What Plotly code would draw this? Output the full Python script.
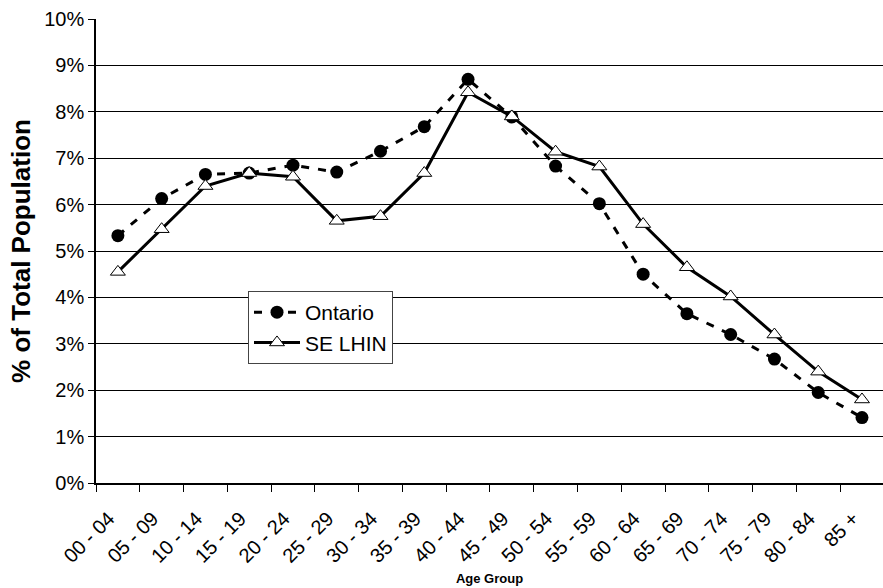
import plotly.graph_objects as go

age_groups = ["00 - 04", "05 - 09", "10 - 14", "15 - 19", "20 - 24", "25 - 29",
              "30 - 34", "35 - 39", "40 - 44", "45 - 49", "50 - 54", "55 - 59",
              "60 - 64", "65 - 69", "70 - 74", "75 - 79", "80 - 84", "85 +"]

ontario = [5.33, 6.13, 6.65, 6.68, 6.85, 6.70, 7.15, 7.68, 8.70, 7.89,
           6.83, 6.02, 4.50, 3.65, 3.20, 2.67, 1.95, 1.41]

se_lhin = [4.55, 5.47, 6.40, 6.68, 6.60, 5.65, 5.75, 6.68, 8.42, 7.90,
           7.14, 6.82, 5.58, 4.65, 4.02, 3.20, 2.40, 1.80]

y_ticks = [0, 1, 2, 3, 4, 5, 6, 7, 8, 9, 10]

FONT = "Arial, Liberation Sans, sans-serif"

fig = go.Figure()
fig.add_trace(go.Scatter(
    x=age_groups, y=[v / 100 for v in ontario], name="Ontario",
    mode="lines+markers",
    line=dict(color="black", width=3, dash="8px,9px"),
    marker=dict(symbol="circle", size=13, color="black"),
))
fig.add_trace(go.Scatter(
    x=age_groups, y=[v / 100 for v in se_lhin], name="SE LHIN",
    mode="lines+markers",
    line=dict(color="black", width=3),
    marker=dict(symbol="triangle-up", size=13, color="white",
                line=dict(color="black", width=1)),
))

fig.update_layout(
    width=883, height=588,
    margin=dict(l=96, r=0, t=19, b=105),
    paper_bgcolor="white", plot_bgcolor="white",
    font=dict(family=FONT, size=20, color="black"),
    showlegend=True,
    legend=dict(
        x=(248 - 96) / 787, y=(483 - 291) / 464, xanchor="left", yanchor="top",
        bgcolor="white", bordercolor="#444", borderwidth=1,
        font=dict(family=FONT, size=21, color="black"),
        itemwidth=46, tracegroupgap=0,
    ),
    xaxis=dict(
        type="category", range=[-0.5, 17.48],
        showgrid=False, showline=True, linecolor="black", linewidth=2,
        ticks="outside", tickson="boundaries", ticklen=7, tickcolor="black",
        tickwidth=1, tickangle=-45,
        ticklabelstandoff=14, ticklabelshift=-9,
        tickfont=dict(family=FONT, size=20, color="black"),
        title=dict(text="<b>Age Group</b>", font=dict(family=FONT, size=13),
                   standoff=8),
    ),
    yaxis=dict(
        range=[0, 0.10], tickvals=[t / 100 for t in y_ticks],
        tickformat=".0%",
        showgrid=True, gridcolor="black", gridwidth=1,
        showline=True, linecolor="black", linewidth=1.5,
        ticks="outside", ticklen=6, tickcolor="black",
        tickfont=dict(family=FONT, size=20, color="black"),
        zeroline=False,
        title=dict(text="<b>% of Total Population</b>",
                   font=dict(family=FONT, size=26), standoff=6),
    ),
)

fig.write_html("out.html")
